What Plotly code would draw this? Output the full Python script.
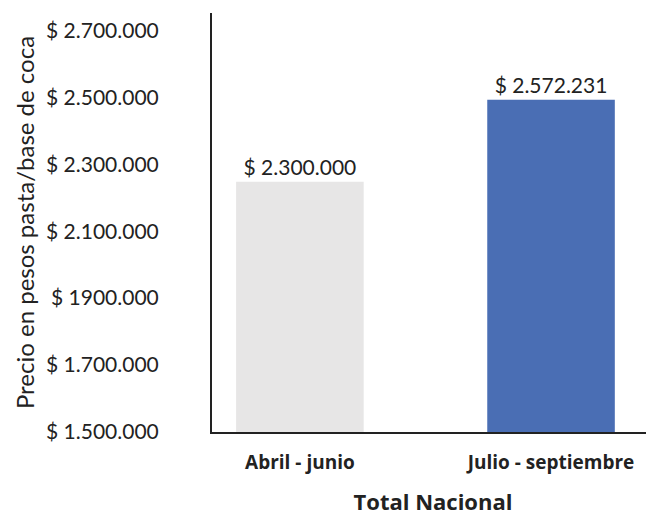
import plotly.graph_objects as go

categories = ["Abril - junio", "Julio - septiembre"]
bar_heights = [2248000, 2493000]
bar_labels = ["$ 2.300.000", "$ 2.572.231"]
bar_colors = ["#E7E6E6", "#4A6EB4"]
tick_vals = [1500000, 1700000, 1900000, 2100000, 2300000, 2500000, 2700000]
tick_text = ["$ 1.500.000", "$ 1.700.000", "$ 1900.000", "$ 2.100.000",
             "$ 2.300.000", "$ 2.500.000", "$ 2.700.000"]

fig = go.Figure(go.Bar(
    x=categories, y=bar_heights, text=bar_labels,
    textposition="outside", cliponaxis=False,
    textfont=dict(family="Lato", size=21, color="#222"),
    marker=dict(color=bar_colors, line=dict(width=0)),
    width=0.508,
))

fig.update_layout(
    width=654, height=515,
    margin=dict(l=204, r=8, t=5, b=91),
    paper_bgcolor="white", plot_bgcolor="white",
    showlegend=False,
    font=dict(family="Lato", color="#222"),
    xaxis=dict(
        range=[-0.35, 1.41],
        showline=True, linecolor="#222", linewidth=2,
        ticks="", showgrid=False,
        ticklabelstandoff=12,
        tickfont=dict(family="Open Sans", size=19, color="#222", weight="bold"),
        title=dict(text="Total Nacional", standoff=21,
                   font=dict(family="Open Sans", size=22, color="#222", weight="bold")),
    ),
    yaxis=dict(
        range=[1500000, 2752000],
        showline=True, linecolor="#222", linewidth=2,
        ticks="", showgrid=False, zeroline=False,
        tickvals=tick_vals, ticktext=tick_text,
        ticklabelstandoff=47,
        tickfont=dict(family="Lato", size=21, color="#222"),
        title=dict(text="Precio en pesos pasta/base de coca", standoff=5,
                   font=dict(family="Lato", size=24, color="#222")),
    ),
)

fig.write_html("out.html")
